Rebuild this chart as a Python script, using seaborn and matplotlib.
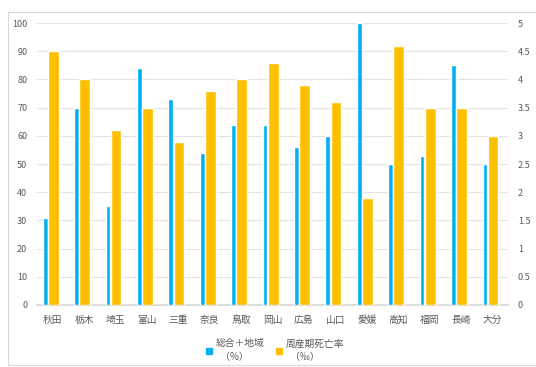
import matplotlib
matplotlib.use("Agg")
import matplotlib.pyplot as plt
import seaborn as sns
import pandas as pd
from matplotlib.patches import Patch, Rectangle

# prefectures
prefs = ["秋田", "栃木", "埼玉", "富山", "三重", "奈良", "鳥取", "岡山",
         "広島", "山口", "愛媛", "高知", "福岡", "長崎", "大分"]
# left axis (%)
ratio = [31, 70, 35, 84, 73, 54, 64, 64, 56, 60, 100, 50, 53, 85, 50]
# right axis (per mille)
mortality = [4.5, 4.0, 3.1, 3.5, 2.9, 3.8, 4.0, 4.3, 3.9, 3.6, 1.9, 4.6, 3.5, 3.5, 3.0]

left_ticks = list(range(0, 101, 10))
right_ticks = [0, 0.5, 1, 1.5, 2, 2.5, 3, 3.5, 4, 4.5, 5]
label_ratio = "総合＋地域\n  （%）"
label_mort = "周産期死亡率\n  （‰）"

BLUE = "#00B0F0"
ORANGE = "#FFC000"
GREY = "#595959"

sns.set_theme(style="white")
plt.rcParams["font.family"] = ["Noto Sans CJK JP", "DejaVu Sans"]

df = pd.DataFrame({"pref": prefs, "ratio": ratio, "mortality": mortality})

fig = plt.figure(figsize=(5.36, 3.67), dpi=100)
fig.patches.append(Rectangle((8 / 536, 0.005), 0.99, 1 - 12 / 367 - 0.005,
                             transform=fig.transFigure, fill=False,
                             edgecolor="#d9d9d9", linewidth=0.8))
ax1 = fig.add_axes([0.069, 0.169, 0.879, 0.768])
ax2 = ax1.twinx()

sns.barplot(data=df, x="pref", y="ratio", ax=ax1, color=BLUE, width=0.15,
            saturation=1, zorder=3)
sns.barplot(data=df, x="pref", y="mortality", ax=ax2, color=ORANGE, width=0.34,
            saturation=1, zorder=3)
for p in ax1.patches:
    p.set_x(p.get_x() - 0.24)
for p in ax2.patches:
    p.set_x(p.get_x() + 0.02)

ax1.set_ylim(0, 100)
ax2.set_ylim(0, 5)
ax1.set_xlim(-0.5, len(prefs) - 0.5)
ax1.set_yticks(left_ticks)
ax2.set_yticks(right_ticks)
ax2.set_yticklabels([f"{v:g}" for v in right_ticks])
ax1.yaxis.grid(True, color="#e3e3e3", linewidth=0.8, zorder=0)
ax1.set_axisbelow(True)
ax1.set_xlabel("")
ax1.set_ylabel("")
ax2.set_ylabel("")
for ax in (ax1, ax2):
    ax.tick_params(axis="both", length=0, labelsize=6.5, labelcolor=GREY, pad=7)
    for s in ax.spines.values():
        s.set_visible(False)
ax1.spines["bottom"].set_visible(True)
ax1.spines["bottom"].set_color("#d9d9d9")
ax1.tick_params(axis="x", pad=7, labelsize=7)

handles = [Patch(color=BLUE, label=label_ratio), Patch(color=ORANGE, label=label_mort)]
leg = fig.legend(handles=handles, loc="center", bbox_to_anchor=(0.513, 0.045), ncol=2,
                 frameon=False, fontsize=7, handlelength=0.6, handleheight=0.6,
                 handletextpad=0.4, columnspacing=1.2)
for t in leg.get_texts():
    t.set_color(GREY)
    t.set_linespacing(1.5)

fig.savefig("out.png", dpi=100)
